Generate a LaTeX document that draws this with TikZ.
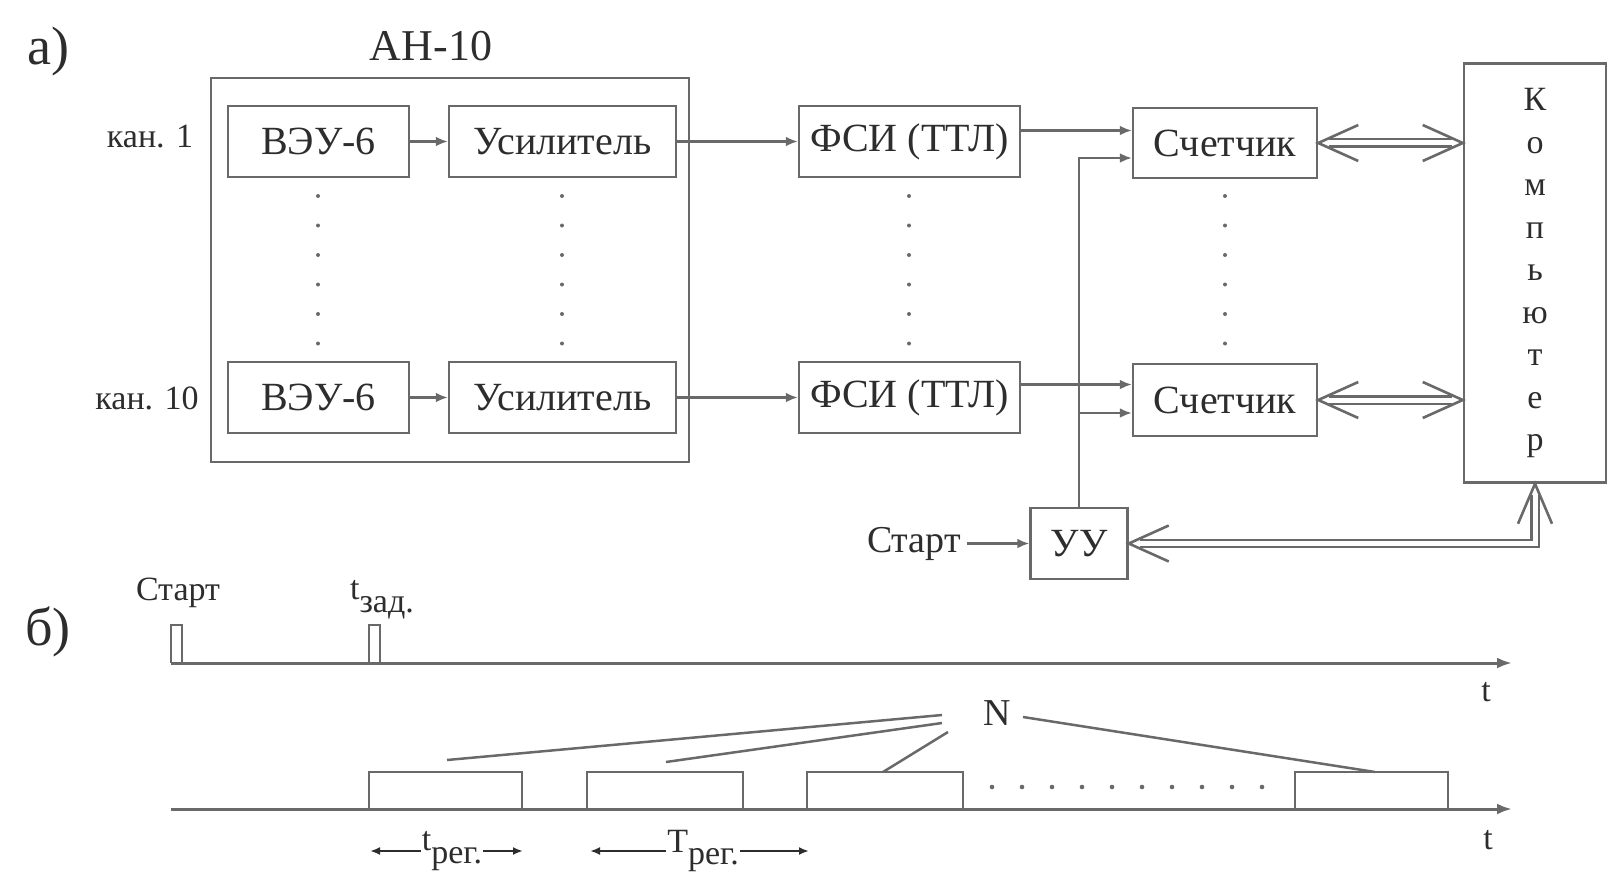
\documentclass[tikz,border=0pt]{standalone}
\usepackage{fontspec}
\setmainfont{Liberation Serif}
\usetikzlibrary{arrows.meta,calc}
\definecolor{lncol}{RGB}{105,105,105}
\definecolor{txcol}{RGB}{45,45,45}
\newcommand{\subtx}[1]{\raisebox{-0.38em}{#1}}
\begin{document}
\begin{tikzpicture}[x=1pt,y=-1pt,
  every node/.style={text=txcol},
  blk/.style={draw=lncol, line width=2.5pt, rectangle, inner sep=0pt, font=\fontsize{40}{44}\selectfont},
  con/.style={draw=lncol, line width=2.5pt, -{Latex[length=12pt,width=10pt]}},
  dbl/.style={draw=lncol, line width=2.2pt, double=white, double distance=5pt, shorten <=11pt, shorten >=11pt},
  chev/.style={draw=lncol, line width=2.6pt, line join=miter},
  plain/.style={draw=lncol, line width=2.5pt},
  axisln/.style={draw=lncol, line width=3pt, -{Latex[length=15pt,width=11pt]}},
  pulse/.style={draw=lncol, line width=2.2pt},
  lbl/.style={font=\fontsize{34}{38}\selectfont, inner sep=1pt},
  sarr/.style={draw=txcol, line width=2pt, -{Latex[length=10pt,width=8pt]}}
]
\fill[white] (0,0) rectangle (1611,872);
\useasboundingbox (0,0) rectangle (1611,872);

% ---------------- part a ----------------
\node[font=\fontsize{54}{58}\selectfont, inner sep=0] (la) at (48,52) {а)};
\node[font=\fontsize{44}{48}\selectfont, inner sep=0] (anlbl) at (431,46) {АН-10};
\node[draw=lncol, line width=2.5pt, minimum width=478pt, minimum height=384pt, inner sep=0] (an) at (450,270) {};

\node[lbl] (k1) at (150,137) {кан. 1};
\node[lbl] (k10) at (147,398) {кан. 10};

\node[blk, minimum width=181pt, minimum height=71pt] (v1) at (318.5,141.5) {ВЭУ-6};
\node[blk, minimum width=227pt, minimum height=71pt] (u1) at (562.5,141.5) {Усилитель};
\node[blk, minimum width=221pt, minimum height=71pt] (f1) at (909.5,141.5) {ФСИ (ТТЛ)};
\node[blk, minimum width=184pt, minimum height=70pt] (c1) at (1225,143) {Счетчик};

\node[blk, minimum width=181pt, minimum height=71pt] (v2) at (318.5,397.5) {ВЭУ-6};
\node[blk, minimum width=227pt, minimum height=71pt] (u2) at (562.5,397.5) {Усилитель};
\node[blk, minimum width=221pt, minimum height=71pt] (f2) at (909.5,397.5) {ФСИ (ТТЛ)};
\node[blk, minimum width=184pt, minimum height=72pt] (c2) at (1225,400) {Счетчик};

\node[blk, minimum width=142pt, minimum height=419pt, align=center, font=\fontsize{34}{42.5}\selectfont] (comp) at (1535,273) {К\\о\\м\\п\\ь\\ю\\т\\е\\р};

\node[blk, minimum width=97pt, minimum height=71pt] (uu) at (1079,543.5) {УУ};
\node[font=\fontsize{38}{42}\selectfont, inner sep=6pt] (st) at (914,543.5) {Старт};

% dotted columns
\foreach \xx in {318,562,909,1225}{
  \foreach \yy in {196,225.5,255,284.5,314,343.5}{
    \fill[lncol] (\xx,\yy) circle (2pt);
  }
}

% connectors
\draw[con] (v1) -- (u1);
\draw[con] (v2) -- (u2);
\draw[con] (u1) -- (f1);
\draw[con] (u2) -- (f2);

\coordinate (fo1) at ([yshift=11pt]f1.east);
\coordinate (fo2) at ([yshift=13pt]f2.east);
\coordinate (ci1b) at ([yshift=-15pt]c1.west);
\coordinate (ci2b) at ([yshift=-13pt]c2.west);
\draw[con] (fo1) -- (fo1 -| c1.west);
\draw[con] (fo2) -- (fo2 -| c2.west);
\draw[con] (uu.north) -- (uu.north |- ci1b) -- (ci1b);
\draw[con] (uu.north |- ci2b) -- (ci2b);
\draw[con] (st) -- (uu);

% double arrows counter <-> computer
\foreach \c in {c1,c2}{
  \draw[dbl] (\c.east) -- (\c.east -| comp.west);
  \draw[chev] ($(\c.east)+(40,-18)$) -- (\c.east) -- ($(\c.east)+(40,18)$);
  \draw[chev] ($(\c.east -| comp.west)+(-40,-18)$) -- (\c.east -| comp.west) -- ($(\c.east -| comp.west)+(-40,18)$);
}
% computer -> UU
\draw[dbl, line join=miter] (comp.south) -- (comp.south |- uu.east) -- (uu.east);
\draw[chev] ($(comp.south)+(-17,40)$) -- (comp.south) -- ($(comp.south)+(17,40)$);
\draw[chev] ($(uu.east)+(40,-18)$) -- (uu.east) -- ($(uu.east)+(40,18)$);

% ---------------- part b ----------------
\node[font=\fontsize{54}{58}\selectfont, inner sep=0] (lb) at (48,632) {б)};

\coordinate (a1s) at (171,663);
\coordinate (a1e) at (1512,663);
\draw[axisln] (a1s) -- (a1e);
\node[lbl] (t1) at (1486,692) {t};
\draw[pulse] (171,663) -- (171,625) -- (182,625) -- (182,663);
\draw[pulse] (369,663) -- (369,625) -- (380,625) -- (380,663);
\node[lbl] (pst) at (178,593) {Старт};
\node[lbl] (tz) at (382,600) {t\subtx{зад.}};

\coordinate (a2s) at (171,809);
\coordinate (a2e) at (1512,809);
\draw[axisln] (a2s) -- (a2e);
\node[lbl] (t2) at (1488,840) {t};
\foreach \xa/\xb in {369/522,587/743,807/963,1295/1448}{
  \draw[pulse] (\xa,809) -- (\xa,772) -- (\xb,772) -- (\xb,809);
}
\foreach \k in {0,...,9}{
  \fill[lncol] (992+30*\k,787) circle (2.3pt);
}

\node[font=\fontsize{38}{42}\selectfont, inner sep=1pt] (N) at (997,713) {N};
\coordinate (n1) at (942,715);
\coordinate (n2) at (942,723);
\coordinate (n3) at (948,732);
\coordinate (n4) at (1023,717);
\coordinate (e1) at (447,760);
\coordinate (e2) at (666,762);
\coordinate (e3) at (883,772);
\coordinate (e4) at (1375,772);
\draw[plain] (n1) -- (e1);
\draw[plain] (n2) -- (e2);
\draw[plain] (n3) -- (e3);
\draw[plain] (n4) -- (e4);

\node[lbl] (treg) at (452,851) {t\subtx{рег.}};
\coordinate (tra) at (370,851);
\coordinate (trb) at (523,851);
\draw[sarr] (treg.west) -- (tra);
\draw[sarr] (treg.east) -- (trb);

\node[lbl] (Treg) at (703,851) {T\subtx{рег.}};
\coordinate (Tra) at (590,851);
\coordinate (Trb) at (809,851);
\draw[sarr] (Treg.west) -- (Tra);
\draw[sarr] (Treg.east) -- (Trb);
\end{tikzpicture}
\end{document}
